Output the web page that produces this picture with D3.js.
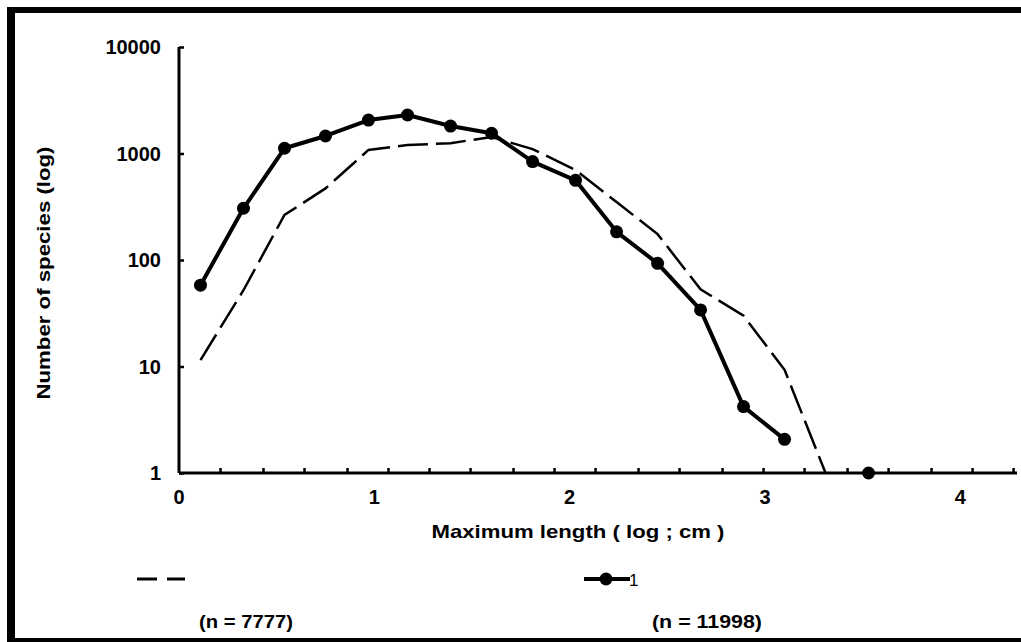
<!DOCTYPE html>
<html>
<head>
<meta charset="utf-8">
<script src="https://cdn.jsdelivr.net/npm/d3@7"></script>
<style>
  body { margin: 0; background: #fff; }
  svg { display: block; }
  text { font-family: "Liberation Sans", Arial, sans-serif; font-weight: bold; fill: #000; }
</style>
</head>
<body>
<svg width="1021" height="642"></svg>
<script>
// size classes on the x axis (log of max length, cm)
const lengthBins = [0.11, 0.33, 0.54, 0.75, 0.97, 1.17, 1.39, 1.60, 1.81, 2.03, 2.24, 2.45, 2.67, 2.89, 3.10, 3.31, 3.53];
// solid series "1" (n = 11998)
const speciesSolid = [58, 306, 1120, 1460, 2060, 2300, 1810, 1550, 840, 560, 184, 93, 34, 4.2, 2.07, null, 1];
// dashed series (n = 7777)
const speciesDashed = [11.5, 52, 265, 470, 1080, 1200, 1250, 1430, 1100, 700, 350, 175, 53, 30, 9.3, 1, null];

const xLabels = [0, 1, 2, 3, 4];
const xMinorTicks = [0.21, 0.43, 0.64, 0.86, 1.07, 1.28, 1.49, 1.71, 1.92, 2.13, 2.35, 2.56, 2.78, 2.99, 3.20, 3.42, 3.63, 3.85, 4.06, 4.27];
const yTicks = [1, 10, 100, 1000, 10000];

const svg = d3.select('svg');

// thick frame round the figure
svg.append('line').attr('x1', 11).attr('y1', 7).attr('x2', 11).attr('y2', 642)
    .attr('stroke', '#000').attr('stroke-width', 8);
svg.append('line').attr('x1', 7).attr('y1', 10).attr('x2', 1021).attr('y2', 10)
    .attr('stroke', '#000').attr('stroke-width', 6);
svg.append('line').attr('x1', 7).attr('y1', 640).attr('x2', 1021).attr('y2', 640)
    .attr('stroke', '#000').attr('stroke-width', 4);

const xScale = d3.scaleLinear()
    .domain([0, 4.29])
    .range([179, 1017]);

const yScale = d3.scaleLog()
    .domain([1, 10000])
    .range([473, 47]);

// y axis, ticks pointing inward
const yAxis = svg.append('g')
    .attr('transform', `translate(${xScale(0)}, 0)`)
    .call(d3.axisRight(yScale).tickValues(yTicks).tickSize(5).tickFormat(''));
yAxis.select('.domain').attr('stroke-width', 3).attr('d', `M0,${yScale(10000)}V${yScale(1)}`);
yAxis.selectAll('.tick line').attr('stroke-width', 2.5);

svg.append('g').selectAll('text')
    .data(yTicks)
    .enter()
    .append('text')
    .attr('x', 161)
    .attr('y', (d) => yScale(d) + 7)
    .attr('text-anchor', 'end')
    .style('font-size', '20px')
    .text((d) => d);

// x axis, minor ticks pointing up
const xAxis = svg.append('g')
    .attr('transform', `translate(0, ${yScale(1)})`)
    .call(d3.axisTop(xScale).tickValues(xMinorTicks).tickSize(5).tickFormat(''));
xAxis.select('.domain').attr('stroke-width', 3).attr('d', `M${xScale(0)},0H${xScale(4.29)}`);
xAxis.selectAll('.tick line').attr('stroke-width', 2.5);

svg.append('g').selectAll('text')
    .data(xLabels)
    .enter()
    .append('text')
    .attr('x', (d) => xScale(d))
    .attr('y', 504)
    .attr('text-anchor', 'middle')
    .style('font-size', '20px')
    .text((d) => d);

// axis titles
svg.append('text')
    .attr('x', 578)
    .attr('y', 538)
    .attr('text-anchor', 'middle')
    .attr('textLength', 293)
    .attr('lengthAdjust', 'spacingAndGlyphs')
    .style('font-size', '19px')
    .text('Maximum length ( log ; cm )');

svg.append('text')
    .attr('transform', 'translate(50, 273) rotate(-90)')
    .attr('text-anchor', 'middle')
    .attr('textLength', 253)
    .attr('lengthAdjust', 'spacingAndGlyphs')
    .style('font-size', '18px')
    .text('Number of species (log)');

const dashedData = lengthBins.map((x, i) => ({ x: x, v: speciesDashed[i] }));
const solidData = lengthBins.map((x, i) => ({ x: x, v: speciesSolid[i] }));

const line = d3.line()
    .defined((d) => d.v != null)
    .x((d) => xScale(d.x))
    .y((d) => yScale(d.v));

svg.append('path')
    .datum(dashedData)
    .attr('fill', 'none')
    .attr('stroke', '#000')
    .attr('stroke-width', 2.5)
    .attr('stroke-dasharray', '30,8')
    .attr('d', line);

svg.append('path')
    .datum(solidData)
    .attr('fill', 'none')
    .attr('stroke', '#000')
    .attr('stroke-width', 4)
    .attr('stroke-linejoin', 'round')
    .attr('d', line);

svg.append('g').selectAll('circle')
    .data(solidData.filter((d) => d.v != null))
    .enter()
    .append('circle')
    .attr('cx', (d) => xScale(d.x))
    .attr('cy', (d) => yScale(d.v))
    .attr('r', 6.5)
    .attr('fill', '#000');

// legend
const legend = svg.append('g');
legend.append('line')
    .attr('x1', 137).attr('x2', 185).attr('y1', 579).attr('y2', 579)
    .attr('stroke', '#000').attr('stroke-width', 3)
    .attr('stroke-dasharray', '20,10');
legend.append('line')
    .attr('x1', 584).attr('x2', 630).attr('y1', 579).attr('y2', 579)
    .attr('stroke', '#000').attr('stroke-width', 4);
legend.append('circle')
    .attr('cx', 606).attr('cy', 579).attr('r', 6.5).attr('fill', '#000');
legend.append('text')
    .attr('x', 629).attr('y', 586)
    .style('font-size', '17px').style('font-weight', 'normal')
    .text('1');

legend.append('text')
    .attr('x', 199).attr('y', 628)
    .attr('textLength', 94)
    .attr('lengthAdjust', 'spacingAndGlyphs')
    .style('font-size', '19px')
    .text('(n = 7777)');
legend.append('text')
    .attr('x', 652).attr('y', 628)
    .attr('textLength', 110)
    .attr('lengthAdjust', 'spacingAndGlyphs')
    .style('font-size', '19px')
    .text('(n = 11998)');
</script>
</body>
</html>
